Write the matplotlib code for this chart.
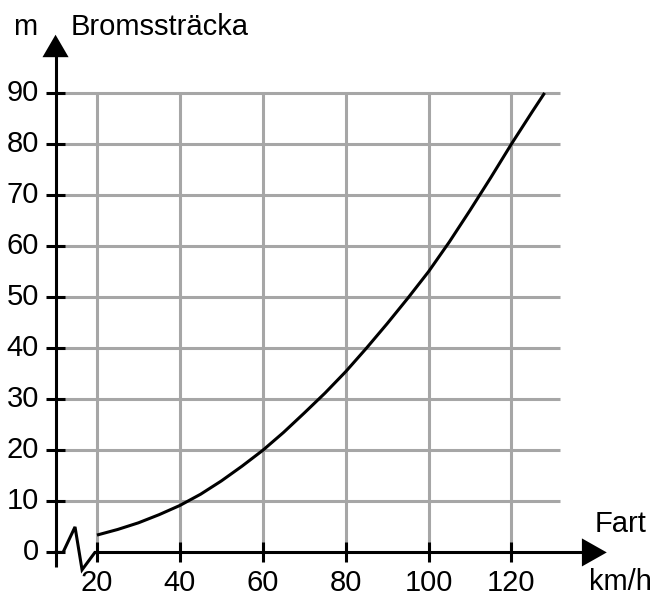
import matplotlib
matplotlib.use('Agg')
import matplotlib.pyplot as plt
from matplotlib.patches import Polygon

plt.rcParams['font.family'] = ['Liberation Sans', 'DejaVu Sans']

# --- Data ---
speed = [20, 25, 30, 35, 40, 45, 50, 55, 60, 65, 70, 75, 80,
         85, 90, 95, 100, 105, 110, 115, 120, 125, 128]
distance = [3.4, 4.5, 5.8, 7.4, 9.2, 11.4, 14.0, 16.9, 20.0, 23.5, 27.3, 31.2, 35.4,
            40.0, 44.8, 49.8, 55.0, 60.8, 67.0, 73.4, 80.0, 86.3, 90.0]
x_ticks = [20, 40, 60, 80, 100, 120]
y_ticks = [0, 10, 20, 30, 40, 50, 60, 70, 80, 90]

# zigzag marking the broken x-axis between the y-axis and 20 km/h
break_x = [10, 11.8, 14.7, 16.4, 19.5, 20]
break_y = [0, 0, 5.0, -3.4, 0, 0]

INK = 'black'
GRID = '#a6a6a6'
LW = 2.2
FS = 21

fig = plt.figure(figsize=(6.59, 6.04), dpi=100)
ax = fig.add_axes([0, 0, 1, 1])
ax.set_xlim(-3.4, 155.6)
ax.set_ylim(-10.1, 108.2)
ax.axis('off')

# grid
for yv in y_ticks[1:]:
    ax.plot([10, 131.7], [yv, yv], color=GRID, lw=LW, zorder=1, solid_capstyle='butt')
for xv in x_ticks:
    ax.plot([xv, xv], [0, 90], color=GRID, lw=LW, zorder=1, solid_capstyle='butt')

# axes
ax.plot([10, 10], [-2.8, 97.5], color=INK, lw=LW, zorder=3, solid_capstyle='butt')
ax.plot(break_x, break_y, color=INK, lw=LW, zorder=3, solid_joinstyle='miter')
ax.plot([20, 137.5], [0, 0], color=INK, lw=LW, zorder=3, solid_capstyle='butt')
ax.add_patch(Polygon([[6.85, 97.0], [13.15, 97.0], [10, 101.4]], closed=True,
                     color=INK, zorder=4, lw=0))
ax.add_patch(Polygon([[137.0, 2.75], [137.0, -2.75], [143.0, 0]], closed=True,
                     color=INK, zorder=4, lw=0))

# ticks
for yv in y_ticks:
    ax.plot([7.6, 12.4], [yv, yv], color=INK, lw=LW, zorder=3, solid_capstyle='butt')
    ax.text(6.0, yv, str(yv), ha='right', va='center', fontsize=FS)
for xv in x_ticks:
    ax.plot([xv, xv], [-1.9, 2.0], color=INK, lw=LW, zorder=3, solid_capstyle='butt')
    ax.text(xv, -5.9, str(xv), ha='center', va='center', fontsize=FS)

# curve
ax.plot(speed, distance, color=INK, lw=LW, zorder=5, solid_capstyle='butt')

# labels
ax.text(2.6, 102.9, 'm', ha='center', va='center', fontsize=FS)
ax.text(13.6, 102.9, 'Bromssträcka', ha='left', va='center', fontsize=FS)
ax.text(146.3, 5.5, 'Fart', ha='center', va='center', fontsize=FS)
ax.text(146.2, -5.8, 'km/h', ha='center', va='center', fontsize=FS)

fig.savefig('out.png', dpi=100, facecolor='white')
